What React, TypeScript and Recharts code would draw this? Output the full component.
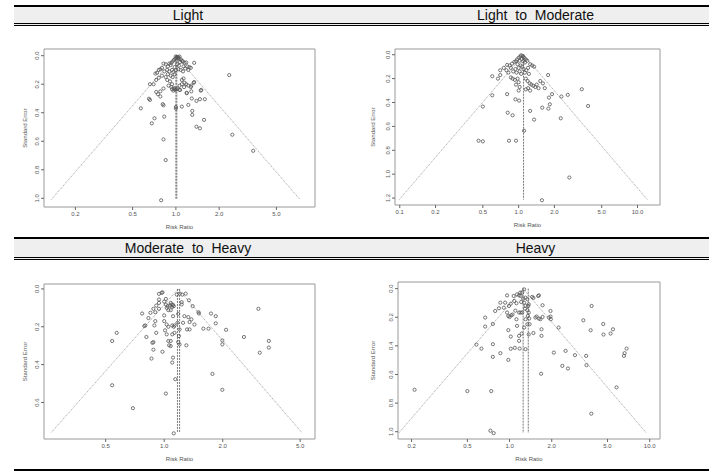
import React from 'react';
import {
    ScatterChart,
    Scatter,
    XAxis,
    YAxis,
    ReferenceArea,
    ReferenceLine
} from 'recharts';

// Column / panel titles
const titles = ['Light', 'Light to Moderate', 'Moderate to Heavy', 'Heavy'];

// Light: risk ratio and standard error of each study
const lightRR = [
    1.00, 1.02, 1.04, 1.06, 1.03, 0.99, 1.05, 1.08, 1.01, 0.97, 1.10, 1.12, 1.07, 0.95, 0.93, 1.15, 1.18, 0.90, 0.92, 1.02,
    1.05, 1.13, 1.20, 1.24, 0.98, 0.88, 0.85, 0.82, 1.34, 0.80, 0.78, 0.76, 0.74, 0.72, 0.83, 0.87, 0.90, 0.94, 0.96, 1.00,
    1.04, 1.08, 1.12, 1.16, 1.22, 1.27, 0.88, 0.92, 0.95, 0.98, 0.85, 0.80, 0.76, 0.70, 0.66, 0.73, 0.87, 0.91, 0.94, 0.89,
    0.93, 0.97, 0.99, 1.01, 1.03, 0.96, 1.10, 1.13, 1.15, 1.18, 1.10, 1.06, 1.14, 1.22, 1.27, 1.33, 1.06, 1.19, 0.82, 0.78,
    0.75, 2.35, 2.47, 3.45, 0.79, 0.85, 0.82, 0.57, 0.71, 0.68, 0.83, 0.66, 0.65, 0.81, 0.82, 0.73, 0.78, 1.00, 1.00, 1.10,
    1.22, 1.29, 1.39, 1.47, 1.59, 1.30, 1.30, 1.50, 1.49, 1.57, 1.39, 1.47, 1.34, 1.28, 1.28, 1.19, 1.07, 0.98, 0.94
];
const lightSE = [
    0.005, 0.008, 0.010, 0.006, 0.015, 0.020, 0.020, 0.025, 0.030, 0.030, 0.035, 0.040, 0.045, 0.040, 0.050, 0.050, 0.048, 0.055, 0.065, 0.060,
    0.070, 0.075, 0.075, 0.080, 0.080, 0.075, 0.060, 0.055, 0.050, 0.085, 0.095, 0.100, 0.120, 0.125, 0.110, 0.100, 0.110, 0.100, 0.115, 0.100,
    0.095, 0.100, 0.110, 0.090, 0.100, 0.085, 0.130, 0.140, 0.150, 0.130, 0.150, 0.140, 0.155, 0.200, 0.200, 0.170, 0.170, 0.180, 0.200, 0.210,
    0.220, 0.230, 0.240, 0.235, 0.230, 0.245, 0.170, 0.160, 0.190, 0.200, 0.200, 0.210, 0.220, 0.210, 0.220, 0.190, 0.240, 0.260, 0.230, 0.250,
    0.270, 0.136, 0.554, 0.667, 1.014, 0.732, 0.587, 0.369, 0.439, 0.474, 0.427, 0.310, 0.302, 0.340, 0.348, 0.254, 0.286, 0.360, 0.370, 0.357,
    0.345, 0.300, 0.317, 0.305, 0.305, 0.387, 0.415, 0.240, 0.245, 0.450, 0.498, 0.509, 0.185, 0.210, 0.250, 0.263, 0.240, 0.230, 0.235
];

// Light to Moderate
const lightModRR = [
    1.05, 1.08, 1.03, 1.10, 1.00, 1.12, 1.06, 0.97, 1.15, 1.02, 0.95, 1.09, 1.18, 0.92, 1.13, 1.25, 1.30, 1.35, 0.88, 0.84,
    0.80, 0.86, 0.98, 1.04, 1.07, 1.00, 0.94, 1.10, 1.16, 1.20, 0.90, 0.96, 1.02, 1.05, 1.13, 1.22, 0.79, 0.75, 0.70, 0.67,
    0.60, 0.86, 0.89, 0.93, 0.98, 1.00, 0.95, 1.02, 1.00, 1.15, 1.19, 1.24, 1.28, 1.33, 1.38, 1.42, 1.47, 1.52, 1.60, 1.66,
    1.77, 1.20, 1.15, 1.25, 0.80, 0.60, 0.46, 0.50, 0.83, 0.95, 1.11, 0.81, 0.89, 0.50, 0.94, 1.01, 1.25, 1.35, 1.58, 1.78,
    1.83, 1.80, 1.91, 2.26, 2.29, 2.59, 2.67, 3.40, 3.84, 1.57, 0.82, 0.70
];
const lightModSE = [
    0.005, 0.010, 0.015, 0.020, 0.025, 0.030, 0.035, 0.040, 0.040, 0.050, 0.055, 0.055, 0.050, 0.060, 0.065, 0.080, 0.090, 0.100, 0.075, 0.090,
    0.085, 0.110, 0.080, 0.090, 0.100, 0.110, 0.120, 0.120, 0.130, 0.110, 0.140, 0.150, 0.140, 0.160, 0.150, 0.160, 0.130, 0.110, 0.130, 0.200,
    0.180, 0.190, 0.200, 0.210, 0.200, 0.230, 0.250, 0.270, 0.300, 0.200, 0.220, 0.240, 0.250, 0.260, 0.270, 0.250, 0.280, 0.220, 0.240, 0.280,
    0.170, 0.280, 0.290, 0.300, 0.330, 0.340, 0.720, 0.725, 0.720, 0.720, 0.636, 0.485, 0.507, 0.434, 0.373, 0.384, 0.470, 0.543, 0.443, 0.451,
    0.415, 0.359, 0.330, 0.532, 0.350, 0.336, 1.028, 0.289, 0.429, 1.218, 0.150, 0.170
];

// Moderate to Heavy
const modHeavyRR = [
    0.54, 0.54, 0.57, 0.69, 0.81, 0.86, 0.88, 0.87, 0.88, 0.79, 0.80, 0.83, 0.77, 0.90, 0.89, 0.91, 0.98, 1.02, 0.94, 0.97,
    0.94, 0.94, 1.00, 1.00, 1.02, 1.03, 1.03, 1.05, 1.06, 1.08, 1.08, 1.10, 1.11, 1.14, 1.12, 1.08, 1.10, 1.11, 1.12, 1.10,
    1.12, 1.13, 1.18, 1.20, 1.19, 1.20, 1.23, 1.23, 1.29, 1.34, 1.40, 1.33, 1.35, 1.35, 1.30, 1.50, 1.51, 1.43, 1.59, 1.69,
    1.74, 1.84, 1.84, 2.08, 1.99, 1.99, 1.77, 1.99, 2.57, 3.05, 3.10, 3.45, 3.45, 0.98, 1.16, 1.20, 1.24, 0.94, 0.91, 0.90,
    0.88, 0.85, 1.00, 1.02, 1.04, 1.07, 1.09, 1.08, 1.05, 1.03, 1.17, 1.18, 1.11, 1.13, 1.10, 1.01, 1.05, 1.31, 1.38, 1.27,
    1.25
];
const modHeavySE = [
    0.509, 0.275, 0.232, 0.630, 0.254, 0.368, 0.321, 0.285, 0.281, 0.196, 0.193, 0.154, 0.130, 0.170, 0.193, 0.232, 0.332, 0.553, 0.026, 0.021,
    0.074, 0.105, 0.140, 0.170, 0.053, 0.188, 0.240, 0.275, 0.298, 0.302, 0.275, 0.389, 0.363, 0.477, 0.763, 0.074, 0.095, 0.084, 0.091, 0.193,
    0.200, 0.193, 0.281, 0.293, 0.249, 0.214, 0.070, 0.082, 0.025, 0.060, 0.091, 0.149, 0.175, 0.214, 0.298, 0.123, 0.130, 0.188, 0.210, 0.210,
    0.130, 0.144, 0.182, 0.216, 0.272, 0.293, 0.449, 0.533, 0.254, 0.105, 0.337, 0.275, 0.310, 0.018, 0.030, 0.025, 0.030, 0.056, 0.088, 0.123,
    0.105, 0.126, 0.067, 0.082, 0.091, 0.088, 0.082, 0.112, 0.112, 0.100, 0.179, 0.132, 0.144, 0.232, 0.240, 0.219, 0.200, 0.214, 0.161, 0.144,
    0.179
];

// Heavy
const heavyRR = [
    0.21, 0.50, 0.74, 0.73, 0.77, 0.58, 0.63, 0.67, 0.67, 0.76, 0.76, 0.86, 0.76, 0.98, 0.98, 1.02, 1.02, 1.09, 1.18, 1.17,
    1.17, 1.13, 1.30, 1.22, 1.27, 1.37, 1.48, 1.39, 1.68, 1.69, 1.69, 2.07, 2.38, 2.51, 2.61, 2.93, 3.36, 3.52, 3.54, 3.79,
    3.83, 3.85, 4.66, 4.68, 5.26, 5.47, 5.80, 6.55, 6.62, 6.84, 2.24, 1.91, 1.96, 1.97, 1.53, 1.56, 1.62, 1.66, 1.72, 1.72,
    1.96, 1.60, 1.45, 1.48, 1.62, 1.13, 1.17, 1.20, 1.23, 1.27, 1.30, 1.34, 1.37, 1.27, 1.21, 1.12, 1.08, 1.02, 0.99, 0.93,
    0.91, 0.84, 0.86, 0.96, 0.98, 1.00, 1.03, 1.05, 1.10, 1.17, 1.20, 1.12, 1.23, 1.34, 1.37, 1.35, 1.38, 1.30, 1.34, 1.29,
    1.30, 1.36, 1.25, 1.19, 0.96, 1.07, 0.79
];
const heavySE = [
    0.707, 0.716, 0.716, 0.993, 1.010, 0.391, 0.419, 0.202, 0.265, 0.388, 0.477, 0.451, 0.247, 0.498, 0.290, 0.420, 0.335, 0.414, 0.419, 0.365,
    0.330, 0.260, 0.423, 0.314, 0.272, 0.320, 0.310, 0.249, 0.595, 0.284, 0.330, 0.447, 0.540, 0.435, 0.558, 0.465, 0.221, 0.470, 0.535, 0.291,
    0.874, 0.121, 0.247, 0.321, 0.314, 0.284, 0.690, 0.470, 0.451, 0.419, 0.272, 0.202, 0.195, 0.214, 0.202, 0.195, 0.209, 0.214, 0.198, 0.116,
    0.156, 0.051, 0.058, 0.065, 0.047, 0.040, 0.047, 0.051, 0.028, 0.005, 0.063, 0.074, 0.109, 0.098, 0.093, 0.102, 0.086, 0.105, 0.121, 0.098,
    0.133, 0.137, 0.098, 0.167, 0.191, 0.198, 0.186, 0.181, 0.154, 0.167, 0.167, 0.214, 0.167, 0.151, 0.167, 0.191, 0.209, 0.214, 0.249, 0.140,
    0.121, 0.121, 0.070, 0.028, 0.047, 0.051, 0.156
];

// Pooled estimate lines (risk ratio) and funnel corners [left RR, apex RR, right RR, max SE]
const lightCenters = [1.0, 1.015];
const lightFunnel = [0.136, 1.0, 7.3, 1.009];
const lightModCenters = [1.10];
const lightModFunnel = [0.099, 1.10, 12.1, 1.213];
const modHeavyCenters = [1.17, 1.20];
const modHeavyFunnel = [0.263, 1.18, 5.09, 0.758];
const heavyCenters = [1.25, 1.36];
const heavyFunnel = [0.162, 1.25, 9.46, 1.009];

// Axis ticks
const lightXTicks = [0.2, 0.5, 1, 2, 5];
const lightYTicks = [0, 0.2, 0.4, 0.6, 0.8, 1.0];
const lightModXTicks = [0.1, 0.2, 0.5, 1, 2, 5, 10];
const lightModYTicks = [0, 0.2, 0.4, 0.6, 0.8, 1.0, 1.2];
const modHeavyXTicks = [0.5, 1, 2, 5];
const modHeavyYTicks = [0, 0.2, 0.4, 0.6];
const heavyXTicks = [0.2, 0.5, 1, 2, 5, 10];
const heavyYTicks = [0, 0.2, 0.4, 0.6, 0.8, 1.0];

const Y_AXIS_W = 30;
const X_AXIS_H = 26;
const M_TOP = 5;
const M_RIGHT = 5;
const TXT = '#555';

const toPoints = (rr: number[], se: number[]) => rr.map((r, i) => ({ rr: r, se: se[i] }));

const Dot = (props: any) => {
    const { cx, cy } = props;
    if (cx == null || cy == null) return <g />;
    return <circle cx={cx} cy={cy} r={1.6} fill="none" stroke="#555" strokeWidth={0.8} />;
};

const YTick = (props: any) => {
    const { x, y, payload } = props;
    return (
        <text x={x} y={y} transform={`rotate(-90 ${x} ${y})`} textAnchor="middle" fontSize={6} fill={TXT}>
            {payload.value.toFixed(1)}
        </text>
    );
};

interface PanelProps {
    box: { x: number; y: number; w: number; h: number };
    xDomain: [number, number];
    yDomain: [number, number];
    xTicks: number[];
    yTicks: number[];
    rr: number[];
    se: number[];
    centers: number[];
    funnel: number[];
    yLabelOffset: number;
}

const FunnelPanel: React.FC<PanelProps> = ({ box, xDomain, yDomain, xTicks, yTicks, rr, se, centers, funnel, yLabelOffset }) => {
    const [fl, fc, fr, seMax] = funnel;
    return (
        <div style={{ position: 'absolute', left: box.x - Y_AXIS_W, top: box.y - M_TOP }}>
            <ScatterChart
                width={box.w + Y_AXIS_W + M_RIGHT}
                height={box.h + M_TOP + X_AXIS_H}
                margin={{ top: M_TOP, right: M_RIGHT, left: 0, bottom: 0 }}
            >
                <XAxis
                    dataKey="rr"
                    type="number"
                    scale="log"
                    domain={xDomain}
                    ticks={xTicks}
                    allowDataOverflow
                    height={X_AXIS_H}
                    axisLine={false}
                    tickSize={3}
                    tickLine={{ stroke: '#666' }}
                    tick={{ fontSize: 6, fill: TXT }}
                    tickFormatter={(v: number) => v.toFixed(1)}
                    label={{ value: 'Risk Ratio', position: 'insideBottom', offset: 4, fontSize: 6, fill: TXT }}
                />
                <YAxis
                    dataKey="se"
                    type="number"
                    domain={yDomain}
                    ticks={yTicks}
                    reversed
                    allowDataOverflow
                    width={Y_AXIS_W}
                    axisLine={false}
                    tickSize={3}
                    tickLine={{ stroke: '#666' }}
                    tick={<YTick />}
                    label={{
                        value: 'Standard Error',
                        angle: -90,
                        position: 'insideLeft',
                        offset: yLabelOffset,
                        fontSize: 6,
                        fill: TXT,
                        style: { textAnchor: 'middle' }
                    }}
                />
                <ReferenceArea
                    x1={xDomain[0]}
                    x2={xDomain[1]}
                    y1={yDomain[0]}
                    y2={yDomain[1]}
                    fill="none"
                    stroke="#999"
                    strokeWidth={1}
                    ifOverflow="visible"
                />
                {/* funnel limits */}
                <ReferenceLine
                    segment={[{ x: fl, y: seMax }, { x: fc, y: 0 }]}
                    stroke="#888"
                    strokeWidth={0.8}
                    strokeDasharray="1 1"
                    ifOverflow="visible"
                />
                <ReferenceLine
                    segment={[{ x: fc, y: 0 }, { x: fr, y: seMax }]}
                    stroke="#888"
                    strokeWidth={0.8}
                    strokeDasharray="1 1"
                    ifOverflow="visible"
                />
                {centers.map((c, i) => (
                    <ReferenceLine
                        key={`c-${i}`}
                        segment={[{ x: c, y: 0 }, { x: c, y: seMax }]}
                        stroke="#555"
                        strokeWidth={0.8}
                        strokeDasharray="2 1"
                        ifOverflow="visible"
                    />
                ))}
                <Scatter data={toPoints(rr, se)} shape={<Dot />} isAnimationActive={false} />
            </ScatterChart>
        </div>
    );
};

const headerRow = (top: number, inner: number, left: string, right: string) => (
    <div
        style={{
            position: 'absolute',
            left: 14,
            top,
            width: 695,
            height: inner,
            background: '#efefef',
            borderTop: '2px solid #000',
            borderBottom: '3px double #000',
            display: 'flex',
            fontSize: 14,
            lineHeight: `${inner}px`,
            color: '#111',
            wordSpacing: 4
        }}
    >
        <div style={{ width: 348, textAlign: 'center' }}>{left}</div>
        <div style={{ width: 347, textAlign: 'center' }}>{right}</div>
    </div>
);

export default function App() {
    return (
        <div
            style={{
                position: 'absolute',
                left: 0,
                top: 0,
                width: 725,
                height: 473,
                background: '#fff',
                fontFamily: '"Liberation Sans", Arial, sans-serif'
            }}
        >
            {headerRow(5, 16, titles[0], titles[1])}
            {headerRow(237, 18, titles[2], titles[3])}
            <div style={{ position: 'absolute', left: 14, top: 469, width: 695, height: 2, background: '#000' }} />

            <FunnelPanel
                box={{ x: 44, y: 49, w: 271, h: 158 }}
                xDomain={[0.121, 9.28]}
                yDomain={[-0.047, 1.061]}
                xTicks={lightXTicks}
                yTicks={lightYTicks}
                rr={lightRR}
                se={lightSE}
                centers={lightCenters}
                funnel={lightFunnel}
                yLabelOffset={11}
            />
            <FunnelPanel
                box={{ x: 395, y: 49, w: 265, h: 156 }}
                xDomain={[0.0912, 15.46]}
                yDomain={[-0.048, 1.258]}
                xTicks={lightModXTicks}
                yTicks={lightModYTicks}
                rr={lightModRR}
                se={lightModSE}
                centers={lightModCenters}
                funnel={lightModFunnel}
                yLabelOffset={8}
            />
            <FunnelPanel
                box={{ x: 44, y: 284, w: 271, h: 155 }}
                xDomain={[0.241, 5.96]}
                yDomain={[-0.026, 0.793]}
                xTicks={modHeavyXTicks}
                yTicks={modHeavyYTicks}
                rr={modHeavyRR}
                se={modHeavySE}
                centers={modHeavyCenters}
                funnel={modHeavyFunnel}
                yLabelOffset={11}
            />
            <FunnelPanel
                box={{ x: 398, y: 282, w: 262, h: 157 }}
                xDomain={[0.16, 11.84]}
                yDomain={[-0.0465, 1.051]}
                xTicks={heavyXTicks}
                yTicks={heavyYTicks}
                rr={heavyRR}
                se={heavySE}
                centers={heavyCenters}
                funnel={heavyFunnel}
                yLabelOffset={5}
            />
        </div>
    );
}
